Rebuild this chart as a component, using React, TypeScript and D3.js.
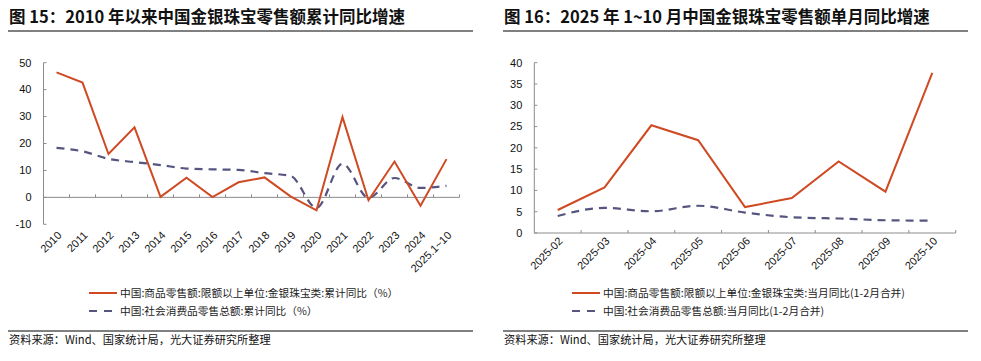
import * as d3 from 'd3';

const yearCats = ['2010', '2011', '2012', '2013', '2014', '2015', '2016', '2017', '2018', '2019', '2020', '2021', '2022', '2023', '2024', '2025.1~10'];
const goldCum = [46.4, 42.6, 16.1, 26.0, 0.2, 7.3, 0.1, 5.6, 7.4, 0.4, -4.8, 29.8, -1.1, 13.3, -3.1, 14.2];
const retailCum = [18.4, 17.1, 14.3, 13.1, 12.0, 10.7, 10.4, 10.2, 9.0, 8.0, -3.9, 12.5, -0.2, 7.2, 3.5, 4.3];
const leftTicks = [-10, 0, 10, 20, 30, 40, 50];

const monthCats = ['2025-02', '2025-03', '2025-04', '2025-05', '2025-06', '2025-07', '2025-08', '2025-09', '2025-10'];
const goldMonth = [5.4, 10.7, 25.3, 21.8, 6.1, 8.2, 16.8, 9.7, 37.6];
const retailMonth = [4.0, 5.9, 5.1, 6.4, 4.8, 3.7, 3.4, 3.0, 2.9];
const rightTicks = [0, 5, 10, 15, 20, 25, 30, 35, 40];

const RED = '#cf4a23';
const BLUE = '#565580';
const AXIS = '#8c8c8c';
const NUM_FONT = '"Liberation Sans", Arial, sans-serif';
const CJK_FONT = '"Noto Sans CJK SC", "Noto Sans", sans-serif';

type PanelProps = {
  x0: number;
  title: string;
  cats: string[];
  red: number[];
  blue: number[];
  ticks: number[];
  xRange: [number, number];
  yRange: [number, number];
  redLabel: string;
  blueLabel: string;
  legendX: number;
  labelDx: number;
  labelDy: number;
};

function Panel(p: PanelProps) {
  const x = d3.scaleBand().domain(p.cats).range(p.xRange);
  const y = d3.scaleLinear().domain([p.ticks[0], p.ticks[p.ticks.length - 1]]).range(p.yRange);
  const cx = (c: string) => (x(c) ?? 0) + x.bandwidth() / 2;
  const redLine = d3.line<number>().x((_, i) => cx(p.cats[i])).y(d => y(d));
  const blueLine = d3.line<number>().x((_, i) => cx(p.cats[i])).y(d => y(d)).curve(d3.curveMonotoneX);
  const zeroY = y(0);
  const bottomY = y(p.ticks[0]);
  const [xa, xb] = p.xRange;
  const boundaries = p.cats.map(c => (x(c) ?? 0) + x.bandwidth());

  return (
    <g>
      <text x={p.x0 + 1} y={23} fontFamily={CJK_FONT} fontWeight={700} fontSize={16.5} fill="#111">{p.title}</text>
      <line x1={p.x0} x2={p.x0 + 465} y1={31} y2={31} stroke="#000" strokeWidth={1} />

      {/* y axis */}
      <line x1={xa} x2={xa} y1={p.yRange[1]} y2={bottomY} stroke={AXIS} />
      {p.ticks.map(t => (
        <g key={t}>
          <line x1={xa} x2={xa + 3} y1={y(t)} y2={y(t)} stroke={AXIS} />
          <text x={xa - 12} y={y(t)} dy="0.35em" textAnchor="end" fontFamily={NUM_FONT} fontSize={11} fill="#111">{t}</text>
        </g>
      ))}

      {/* x axis at zero */}
      <line x1={xa} x2={xb} y1={zeroY} y2={zeroY} stroke={AXIS} />
      {boundaries.map((b, i) => (
        <line key={i} x1={b} x2={b} y1={zeroY} y2={zeroY - 3} stroke={AXIS} />
      ))}
      {p.cats.map(c => (
        <text
          key={c}
          transform={`translate(${cx(c) + p.labelDx},${bottomY + p.labelDy}) rotate(-45)`}
          textAnchor="end"
          dy="0.35em"
          fontFamily={NUM_FONT}
          fontSize={11}
          fill="#111"
        >{c}</text>
      ))}

      <path d={blueLine(p.blue) ?? ''} fill="none" stroke={BLUE} strokeWidth={2.2} strokeDasharray="8,6" />
      <path d={redLine(p.red) ?? ''} fill="none" stroke={RED} strokeWidth={2} strokeLinejoin="miter" />

      {/* legend */}
      <line x1={p.legendX} x2={p.legendX + 28} y1={293} y2={293} stroke={RED} strokeWidth={2} />
      <text x={p.legendX + 31} y={293} dy="0.35em" fontFamily={CJK_FONT} fontSize={10.7} fill="#222">{p.redLabel}</text>
      <line x1={p.legendX} x2={p.legendX + 24} y1={311} y2={311} stroke={BLUE} strokeWidth={2} strokeDasharray="8,7" />
      <text x={p.legendX + 31} y={311} dy="0.35em" fontFamily={CJK_FONT} fontSize={10.7} fill="#222">{p.blueLabel}</text>

      <line x1={p.x0} x2={p.x0 + 465} y1={331} y2={331} stroke="#000" strokeWidth={1} />
      <text x={p.x0 + 1} y={340} dy="0.35em" fontFamily={CJK_FONT} fontSize={11.2} fill="#111">资料来源：Wind、国家统计局，光大证券研究所整理</text>
    </g>
  );
}

export default function App() {
  return (
    <svg width={981} height={361} style={{ position: 'absolute', left: 0, top: 0, background: '#fff' }}>
      <rect width={981} height={361} fill="#fff" />
      <Panel
        x0={8}
        title="图 15：2010 年以来中国金银珠宝零售额累计同比增速"
        cats={yearCats}
        red={goldCum}
        blue={retailCum}
        ticks={leftTicks}
        xRange={[43.5, 459.5]}
        yRange={[224.3, 62.7]}
        redLabel="中国:商品零售额:限额以上单位:金银珠宝类:累计同比（%）"
        blueLabel="中国:社会消费品零售总额:累计同比（%）"
        legendX={89}
        labelDx={3}
        labelDy={9}
      />
      <Panel
        x0={503}
        title="图 16：2025 年 1~10 月中国金银珠宝零售额单月同比增速"
        cats={monthCats}
        red={goldMonth}
        blue={retailMonth}
        ticks={rightTicks}
        xRange={[534.3, 955.7]}
        yRange={[233, 62.7]}
        redLabel="中国:商品零售额:限额以上单位:金银珠宝类:当月同比(1-2月合并)"
        blueLabel="中国:社会消费品零售总额:当月同比(1-2月合并)"
        legendX={572}
        labelDx={3}
        labelDy={6}
      />
    </svg>
  );
}
